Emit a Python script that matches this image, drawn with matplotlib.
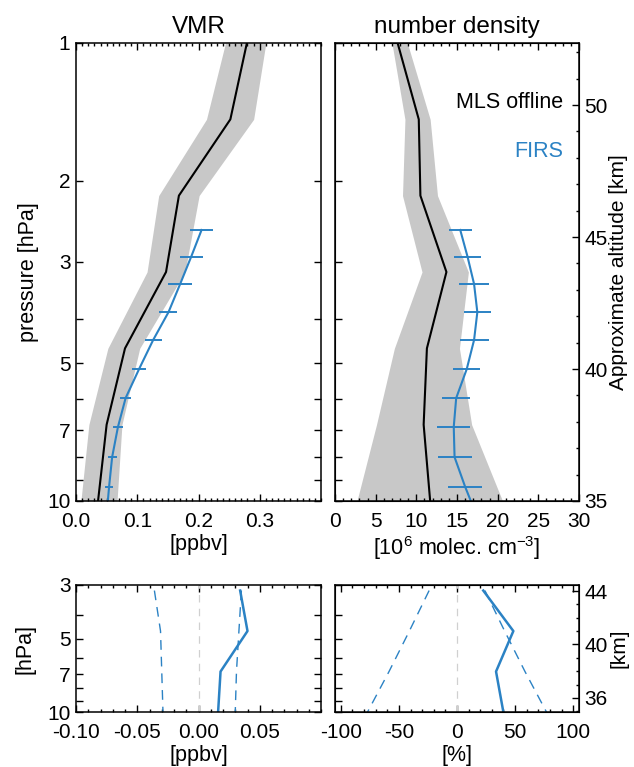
import numpy as np
import matplotlib
matplotlib.use('Agg')
import matplotlib.pyplot as plt
from matplotlib.ticker import FixedLocator, FixedFormatter, MultipleLocator

plt.rcParams['font.family'] = ['Liberation Sans', 'DejaVu Sans']
plt.rcParams['mathtext.fontset'] = 'custom'
plt.rcParams['mathtext.rm'] = 'Liberation Sans'
plt.rcParams['mathtext.it'] = 'Liberation Sans'
plt.rcParams['axes.unicode_minus'] = False

# MLS offline profile (pressure levels in hPa)
p_mls = [1.0, 1.468, 2.154, 3.162, 4.642, 6.813, 10.0]
vmr_mls = [0.279, 0.252, 0.168, 0.147, 0.080, 0.050, 0.036]
vmr_lo = [0.244, 0.213, 0.135, 0.116, 0.052, 0.021, 0.008]
vmr_hi = [0.310, 0.290, 0.201, 0.178, 0.104, 0.075, 0.067]
nd_mls = [7.7, 10.3, 10.5, 13.7, 11.3, 10.9, 11.7]
nd_lo = [7.0, 8.6, 8.3, 10.7, 7.3, 5.1, 2.7]
nd_hi = [8.9, 11.7, 12.6, 16.4, 15.3, 16.8, 20.6]

# FIRS profile (last level has no error bar)
p_firs = [2.56, 2.93, 3.36, 3.87, 4.45, 5.15, 5.96, 6.89, 8.02, 9.31, 10.0]
vmr_firs = [0.205, 0.188, 0.170, 0.151, 0.126, 0.103, 0.081, 0.0685, 0.059, 0.054, 0.052]
vmr_err = [0.019, 0.019, 0.0196, 0.0147, 0.0136, 0.011, 0.0095, 0.0087, 0.0073, 0.0068]
nd_firs = [15.4, 16.3, 17.1, 17.5, 17.1, 16.2, 14.9, 14.6, 14.7, 16.0, 16.7]
nd_err = [1.43, 1.64, 1.85, 1.68, 1.78, 1.68, 1.70, 2.05, 2.09, 2.09]

# differences FIRS - MLS
p_diff = [3.162, 4.642, 6.813, 10.0]
diff_ppbv = [0.034, 0.040, 0.018, 0.016]
unc_ppbv_lo = [-0.036, -0.031, -0.030, -0.029]
unc_ppbv_hi = [0.035, 0.033, 0.031, 0.030]
diff_pct = [22.6, 48.5, 33.6, 39.9]
unc_pct = [24.0, 41.0, 58.5, 77.0]

p_ticks = [1, 2, 3, 4, 5, 6, 7, 8, 9, 10]
p_labels = ['1', '2', '3', '', '5', '', '7', '', '', '10']

blue = '#2b82c4'
grey = '#c8c8c8'
TICK = 15
LAB = 15.5

W, H = 634, 767
fig = plt.figure(figsize=(W / 100, H / 100), dpi=100)


def box(x0, y0, x1, y1):
    return [x0 / W, 1 - y1 / H, (x1 - x0) / W, (y1 - y0) / H]


ax1 = fig.add_axes(box(76, 43, 321, 501))
ax2 = fig.add_axes(box(335, 43, 579, 501))
ax3 = fig.add_axes(box(76, 585, 321, 712))
ax4 = fig.add_axes(box(335, 585, 579, 712))


def style(ax, pmin, pmax):
    ax.set_yscale('log')
    ax.set_ylim(pmax, pmin)
    ax.yaxis.set_major_locator(FixedLocator(p_ticks))
    ax.yaxis.set_major_formatter(FixedFormatter(p_labels))
    ax.yaxis.set_minor_locator(FixedLocator([]))
    ax.tick_params(which='both', direction='in', top=True, right=True,
                   labelsize=TICK, width=1.0)
    ax.tick_params(which='major', length=5)
    ax.tick_params(which='minor', length=2.5)
    ax.tick_params(axis='x', pad=8)
    ax.tick_params(axis='y', pad=4)
    for s in ax.spines.values():
        s.set_linewidth(1.1)


def alt_axis(ax, lo, hi, major, label, pad):
    alt = ax.twinx()
    alt.set_ylim(lo, hi)
    alt.yaxis.set_major_locator(major)
    alt.yaxis.set_minor_locator(MultipleLocator(1))
    alt.tick_params(which='both', direction='in', labelsize=TICK, pad=4, width=1.0)
    alt.tick_params(which='major', length=5)
    alt.tick_params(which='minor', length=2.5)
    alt.set_ylabel(label, fontsize=15, labelpad=pad)
    ax.tick_params(right=False)
    return alt


# ---- VMR
ax1.fill_betweenx(p_mls, vmr_lo, vmr_hi, color=grey, lw=0)
ax1.plot(vmr_mls, p_mls, color='black', lw=1.5)
ax1.plot(vmr_firs, p_firs, color=blue, lw=1.5)
ax1.errorbar(vmr_firs[:-1], p_firs[:-1], xerr=vmr_err, fmt='none',
             ecolor=blue, elinewidth=1.4, capsize=0)
style(ax1, 1, 10)
ax1.set_xlim(0, 0.4)
ax1.xaxis.set_major_locator(FixedLocator([0.0, 0.1, 0.2, 0.3]))
ax1.xaxis.set_major_formatter(FixedFormatter(['0.0', '0.1', '0.2', '0.3']))
ax1.xaxis.set_minor_locator(MultipleLocator(0.01))
ax1.set_title('VMR', fontsize=17.5, pad=7)
ax1.set_xlabel('[ppbv]', fontsize=LAB, labelpad=2)
ax1.set_ylabel('pressure [hPa]', fontsize=LAB, labelpad=6)

# ---- number density
ax2.fill_betweenx(p_mls, nd_lo, nd_hi, color=grey, lw=0)
ax2.plot(nd_mls, p_mls, color='black', lw=1.5)
ax2.plot(nd_firs, p_firs, color=blue, lw=1.5)
ax2.errorbar(nd_firs[:-1], p_firs[:-1], xerr=nd_err, fmt='none',
             ecolor=blue, elinewidth=1.4, capsize=0)
style(ax2, 1, 10)
ax2.set_xlim(0, 30)
ax2.xaxis.set_major_locator(MultipleLocator(5))
ax2.xaxis.set_minor_locator(MultipleLocator(1))
ax2.tick_params(labelleft=False)
ax2.set_title('number density', fontsize=17.5, pad=7)
ax2.set_xlabel(r'[10$^6$ molec. cm$^{-3}$]', fontsize=LAB, labelpad=2)
ax2.text(0.934, 0.871, 'MLS offline', transform=ax2.transAxes, ha='right',
         va='center', fontsize=15.5, color='black')
ax2.text(0.934, 0.764, 'FIRS', transform=ax2.transAxes, ha='right',
         va='center', fontsize=15.5, color=blue)
alt_axis(ax2, 35, 52.35, MultipleLocator(5), 'Approximate altitude [km]', 1)

# ---- difference ppbv
ax3.axvline(0, color='#d0d0d0', lw=0.9, ls=(0, (6, 5)))
ax3.plot(unc_ppbv_lo, p_diff, color=blue, lw=1.0, ls=(0, (7, 5)))
ax3.plot(unc_ppbv_hi, p_diff, color=blue, lw=1.0, ls=(0, (7, 5)))
ax3.plot(diff_ppbv, p_diff, color=blue, lw=1.8)
style(ax3, 3, 10)
ax3.set_xlim(-0.1, 0.1)
ax3.xaxis.set_major_locator(FixedLocator([-0.10, -0.05, 0.0, 0.05]))
ax3.xaxis.set_major_formatter(FixedFormatter(['-0.10', '-0.05', '0.00', '0.05']))
ax3.xaxis.set_minor_locator(MultipleLocator(0.01))
ax3.set_xlabel('[ppbv]', fontsize=LAB, labelpad=2)
ax3.set_ylabel('[hPa]', fontsize=LAB, labelpad=8)

# ---- difference percent
ax4.axvline(0, color='#d0d0d0', lw=0.9, ls=(0, (6, 5)))
ax4.plot([-u for u in unc_pct], p_diff, color=blue, lw=1.0, ls=(0, (7, 5)))
ax4.plot(unc_pct, p_diff, color=blue, lw=1.0, ls=(0, (7, 5)))
ax4.plot(diff_pct, p_diff, color=blue, lw=1.8)
style(ax4, 3, 10)
ax4.set_xlim(-105, 105)
ax4.xaxis.set_major_locator(FixedLocator([-100, -50, 0, 50, 100]))
ax4.xaxis.set_minor_locator(MultipleLocator(10))
ax4.tick_params(labelleft=False)
ax4.set_xlabel('[%]', fontsize=LAB, labelpad=2)
alt_axis(ax4, 34.95, 44.45, FixedLocator([36, 40, 44]), '[km]', 1)

fig.savefig('out.png', dpi=100)
